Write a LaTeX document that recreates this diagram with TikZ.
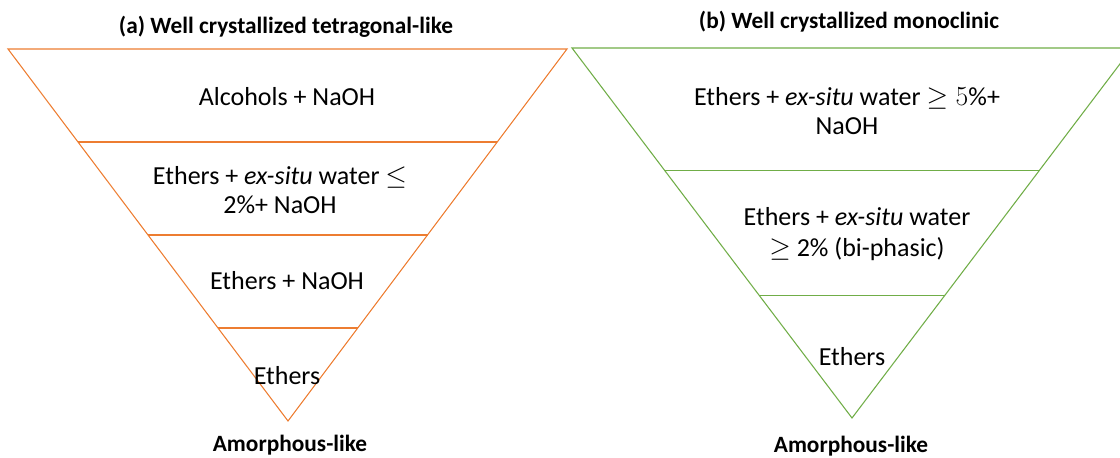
\documentclass[tikz,border=0pt]{standalone}
\usepackage{fontspec}
\setmainfont{Carlito}
\usetikzlibrary{positioning,calc}
\definecolor{funnelorange}{HTML}{ED7D31}
\definecolor{funnelgreen}{HTML}{70AD47}

\begin{document}
\begin{tikzpicture}[
    x=0.75pt, y=-0.75pt,
    layer/.style={align=center, font=\fontsize{19.5}{22}\selectfont, inner sep=0pt},
    heading/.style={align=center, font=\fontsize{17.5}{20}\selectfont\bfseries, inner sep=0pt},
    funnel a/.style={draw=funnelorange, line width=0.8pt},
    funnel b/.style={draw=funnelgreen, line width=0.8pt}
]
    \useasboundingbox (0,0) rectangle (1120,457);
    \clip (0,0) rectangle (1120,457);

    % Funnel (a)
    \coordinate (aTL) at (8,49);
    \coordinate (aTR) at (567,49);
    \coordinate (aBot) at (288,421);
    \draw[funnel a] (aTL) -- (aTR) -- (aBot) -- cycle;
    \draw[funnel a] ($(aTL)!0.25!(aBot)$) -- ($(aTR)!0.25!(aBot)$);
    \draw[funnel a] ($(aTL)!0.5!(aBot)$) -- ($(aTR)!0.5!(aBot)$);
    \draw[funnel a] ($(aTL)!0.75!(aBot)$) -- ($(aTR)!0.75!(aBot)$);

    \node[heading] (aTitle) at (286,27) {(a) Well crystallized tetragonal-like};
    \node[layer] (alcohol) at (287,97) {Alcohols + NaOH};
    \node[layer] (lowWater) at (280,190) {Ethers + \textit{ex-situ} water $\leq$\\2\%+ NaOH};
    \node[layer] (etherBase) at (287,281) {Ethers + NaOH};
    \node[layer] (etherA) at (287,376) {Ethers};
    \node[heading] (aFoot) at (290,445) {Amorphous-like};

    % Funnel (b)
    \coordinate (bTL) at (572,48);
    \coordinate (bTR) at (1132,48);
    \coordinate (bBot) at (852,418);
    \draw[funnel b] (bTL) -- (bTR) -- (bBot) -- cycle;
    \draw[funnel b] ($(bTL)!0.33!(bBot)$) -- ($(bTR)!0.33!(bBot)$);
    \draw[funnel b] ($(bTL)!0.67!(bBot)$) -- ($(bTR)!0.67!(bBot)$);

    \node[heading] (bTitle) at (849,22) {(b) Well crystallized monoclinic};
    \node[layer] (highWater) at (847,111) {Ethers + \textit{ex-situ} water $\geq 5\%$+\\NaOH};
    \node[layer] (biphasic) at (857,234) {Ethers + \textit{ex-situ} water\\[1pt]$\geq$ 2\% (bi-phasic)};
    \node[layer] (etherB) at (852,357) {Ethers};
    \node[heading] (bFoot) at (851,446) {Amorphous-like};

\end{tikzpicture}
\end{document}
